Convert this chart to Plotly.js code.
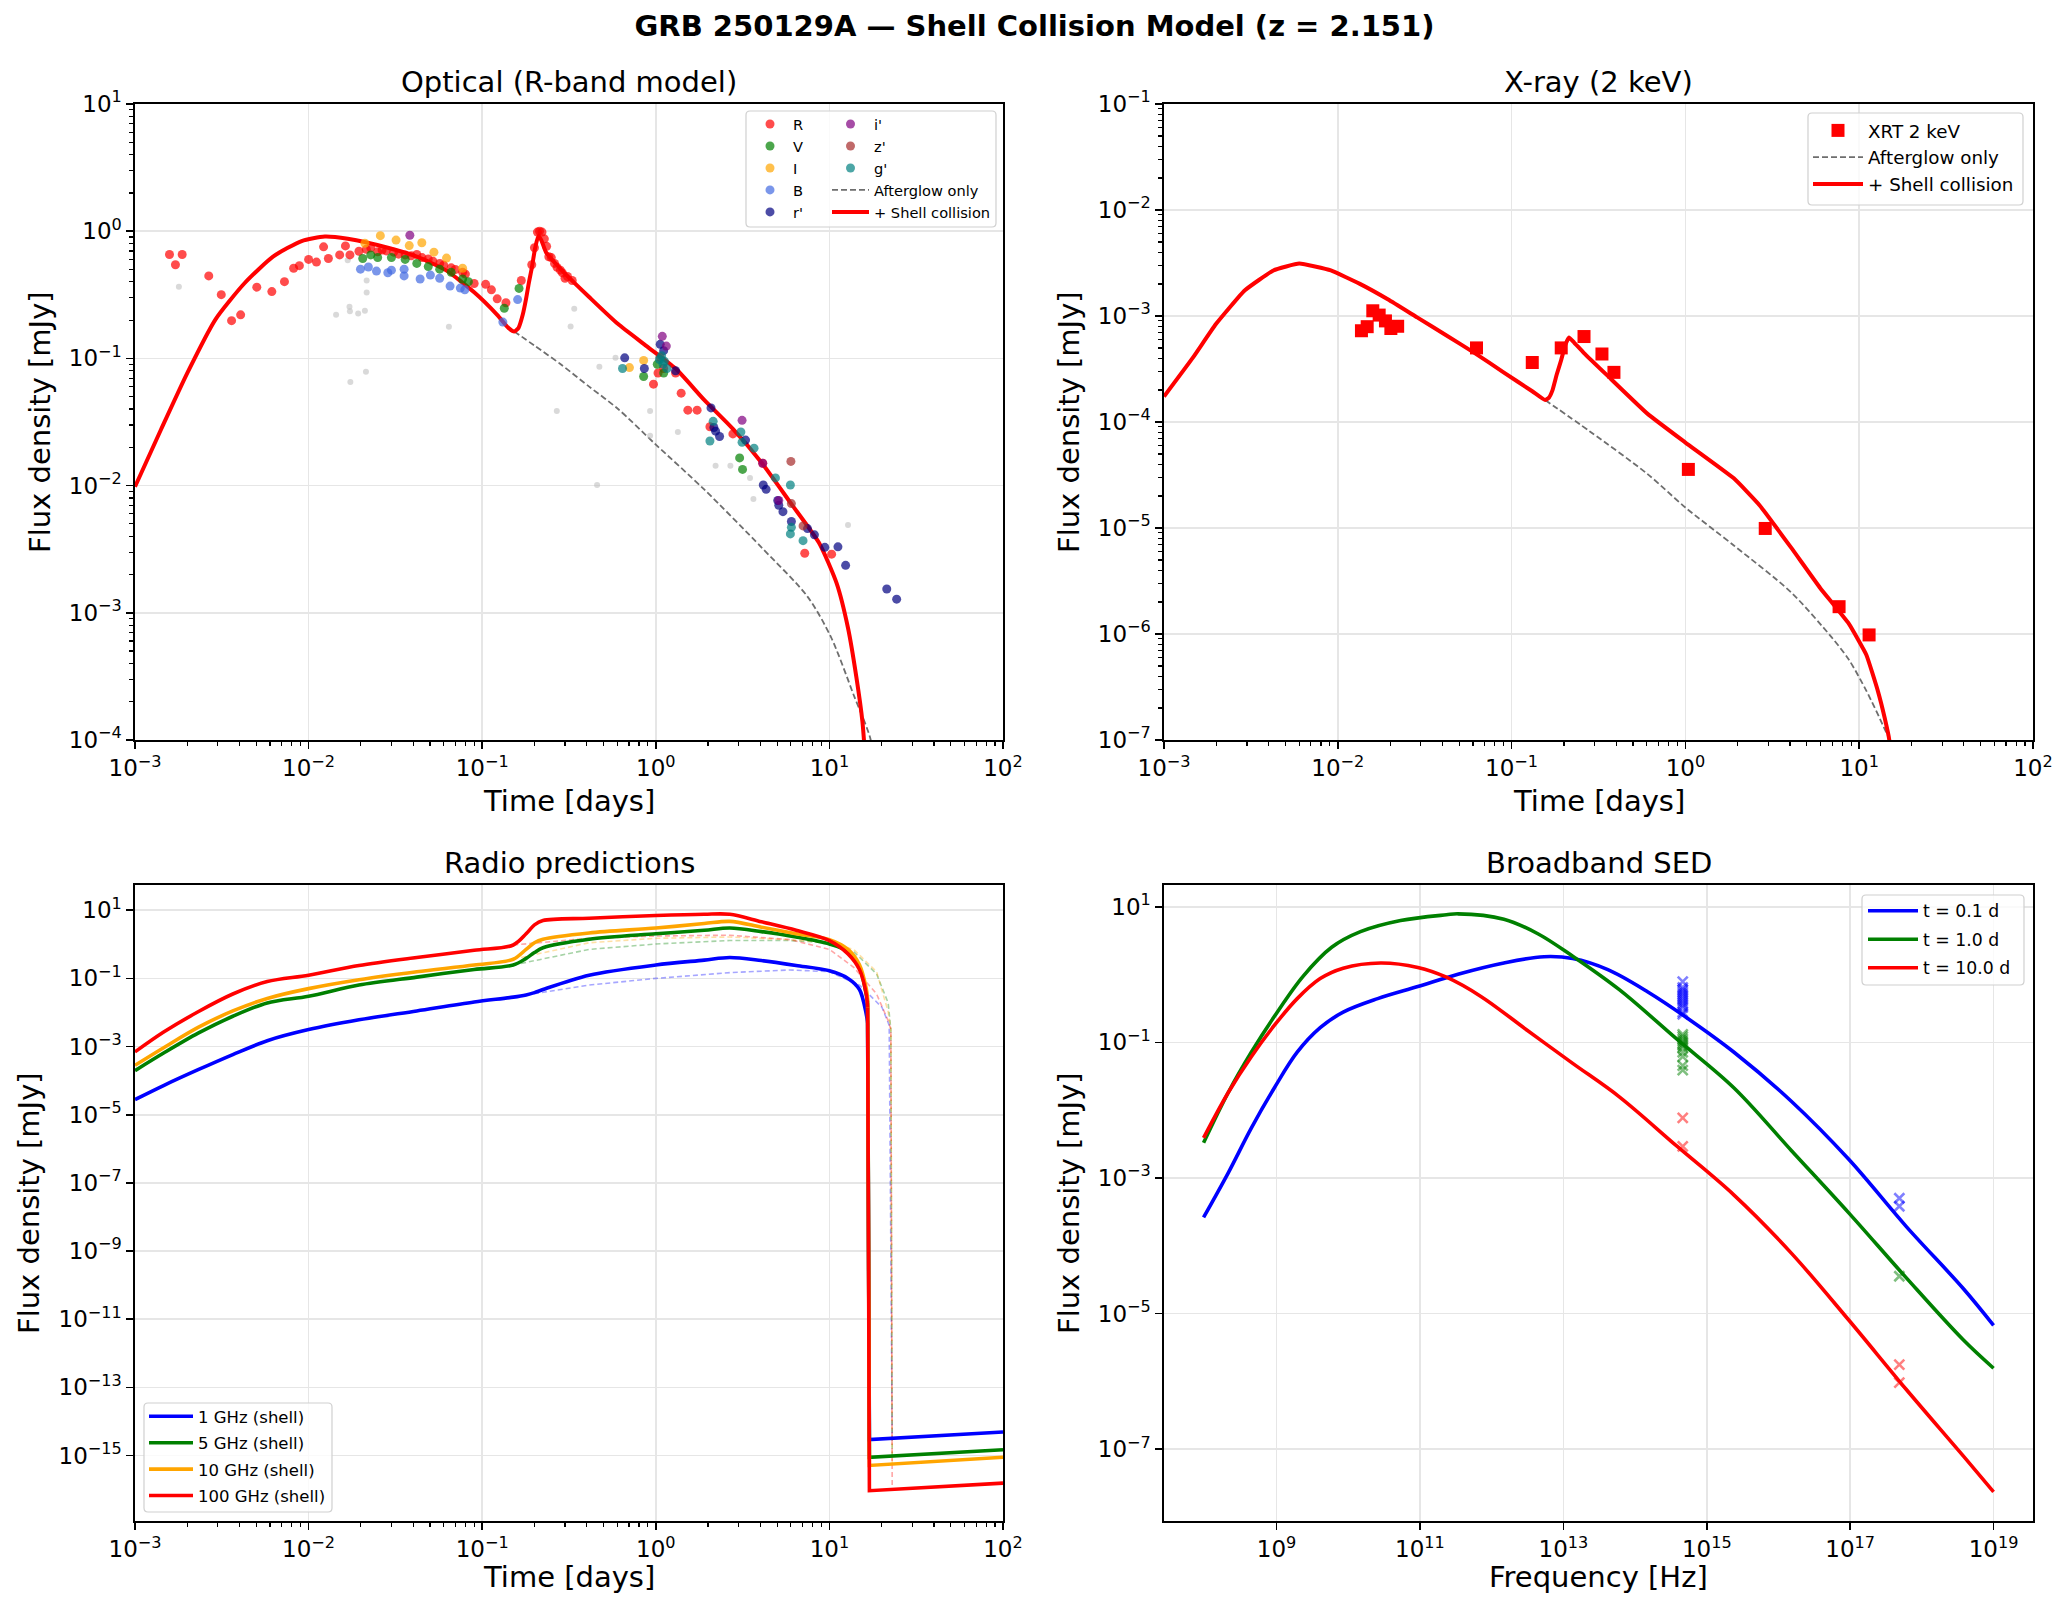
<!DOCTYPE html>
<html>
<head>
<meta charset="utf-8">
<script src="https://cdn.plot.ly/plotly-3.0.1.min.js"></script>
<style>
  html, body { margin: 0; padding: 0; background: #ffffff; }
  #chart { width: 2069px; height: 1614px; }
</style>
</head>
<body>
<div id="chart"></div>
<script>
// ---------------- Optical photometry (time in days, flux density in mJy) ----------------
const rT = [0.00158, 0.00171, 0.00187, 0.00266, 0.00314, 0.0036, 0.00406, 0.00503, 0.00614, 0.00726, 0.0082, 0.00885, 0.01, 0.0111, 0.0122, 0.013, 0.0151, 0.0163, 0.0173, 0.0195, 0.0215, 0.0228, 0.025, 0.0265, 0.028, 0.0309, 0.033, 0.036, 0.039, 0.042, 0.045, 0.0489, 0.052, 0.0569, 0.06, 0.0663, 0.07, 0.0771, 0.08, 0.0899, 0.1047, 0.113, 0.122, 0.137, 0.168, 0.193, 0.200, 0.208, 0.214, 0.221, 0.228, 0.235, 0.242, 0.25, 0.261, 0.27, 0.282, 0.29, 0.300, 0.31, 0.33, 0.97, 1.03, 1.11, 1.30, 1.40, 1.53, 1.73, 2.05, 2.78, 4.13, 7.21, 10.3];
const rF = [0.656, 0.545, 0.656, 0.445, 0.317, 0.198, 0.22, 0.363, 0.335, 0.401, 0.511, 0.536, 0.600, 0.572, 0.753, 0.61, 0.651, 0.766, 0.651, 0.695, 0.72, 0.741, 0.69, 0.711, 0.70, 0.684, 0.66, 0.651, 0.64, 0.656, 0.62, 0.605, 0.58, 0.558, 0.54, 0.515, 0.50, 0.475, 0.46, 0.388, 0.382, 0.346, 0.294, 0.274, 0.41, 0.545, 0.741, 0.984, 1.0, 0.984, 0.871, 0.76, 0.63, 0.62, 0.558, 0.52, 0.494, 0.47, 0.427, 0.44, 0.41, 0.0627, 0.0768, 0.0833, 0.0768, 0.0533, 0.0392, 0.0392, 0.029, 0.0255, 0.015, 0.00294, 0.00289];
const vT = [0.0205, 0.0228, 0.025, 0.030, 0.036, 0.042, 0.0489, 0.0569, 0.0663, 0.0771, 0.0833, 0.134, 0.163, 0.851, 1.02, 1.11, 3.04, 3.16];
const vF = [0.61, 0.651, 0.621, 0.621, 0.600, 0.558, 0.527, 0.503, 0.475, 0.421, 0.401, 0.248, 0.355, 0.072, 0.090, 0.0768, 0.0165, 0.0134];
const iT = [0.0211, 0.0259, 0.0319, 0.038, 0.0449, 0.0527, 0.0623, 0.0771, 0.705, 0.851];
const iF = [0.804, 0.923, 0.851, 0.771, 0.811, 0.684, 0.615, 0.511, 0.0847, 0.0964];
const bT = [0.0199, 0.0221, 0.0246, 0.0286, 0.030, 0.0355, 0.0355, 0.0439, 0.0503, 0.0569, 0.0653, 0.0748, 0.0794, 0.1315, 0.160];
const bF = [0.503, 0.523, 0.486, 0.471, 0.494, 0.503, 0.445, 0.421, 0.452, 0.427, 0.37, 0.357, 0.346, 0.193, 0.29];
const rpT = [0.662, 0.859, 1.06, 1.11, 1.30, 2.08, 2.16, 2.21, 2.33, 3.29, 4.16, 4.32, 5.04, 5.11, 5.40, 6.04, 7.48, 8.20, 9.41, 11.2, 12.4, 21.4, 24.4];
const rpF = [0.101, 0.0833, 0.129, 0.115, 0.080, 0.0408, 0.0286, 0.0268, 0.0243, 0.0228, 0.0101, 0.00935, 0.00764, 0.007, 0.00624, 0.00522, 0.00459, 0.0041, 0.00327, 0.0033, 0.00236, 0.00154, 0.00128];
const ipT = [0.0383, 1.09, 1.15, 3.14, 4.13, 5.11];
const ipF = [0.929, 0.149, 0.125, 0.0326, 0.015, 0.00764];
const zpT = [1.06, 6.0, 6.04, 7.05];
const zpF = [0.102, 0.0155, 0.00722, 0.00482];
const gpT = [0.643, 1.05, 1.08, 1.10, 1.12, 1.16, 2.05, 2.14, 3.09, 3.14, 3.68, 4.89, 5.96, 5.96, 6.04, 7.05];
const gpF = [0.0833, 0.098, 0.105, 0.0903, 0.095, 0.0833, 0.0224, 0.032, 0.0264, 0.0219, 0.0197, 0.0115, 0.0101, 0.00417, 0.0047, 0.00369];
const otherT = [0.00179, 0.0144, 0.0172, 0.0173, 0.0193, 0.0211, 0.0174, 0.0214, 0.0216, 0.0216, 0.0168, 0.0643, 0.269, 0.323, 0.339, 0.459, 0.473, 0.586, 0.927, 0.927, 1.34, 2.21, 2.69, 3.49, 3.65, 12.8];
const otherF = [0.366, 0.22, 0.255, 0.235, 0.225, 0.237, 0.0653, 0.0787, 0.33, 0.41, 0.59, 0.177, 0.0386, 0.178, 0.246, 0.0101, 0.086, 0.101, 0.0386, 0.0247, 0.0264, 0.0143, 0.0143, 0.0115, 0.00783, 0.0049];

// ---------------- Optical model (R band) ----------------
const optModelT = [0.001, 0.00141, 0.002, 0.00291, 0.00426, 0.00624, 0.00912, 0.0124, 0.0168, 0.0286, 0.042, 0.0617, 0.0899, 0.122, 0.142, 0.153, 0.162, 0.171, 0.179, 0.186, 0.193, 0.202, 0.211, 0.219, 0.233, 0.263, 0.304, 0.413, 0.604, 0.885, 1.30, 1.90, 2.78, 4.06, 5.96, 8.71, 11.0, 12.8, 14.3, 15.5, 16.2];
const optModelF = [0.0098, 0.0275, 0.0767, 0.203, 0.388, 0.631, 0.837, 0.908, 0.871, 0.741, 0.631, 0.494, 0.331, 0.22, 0.173, 0.163, 0.174, 0.219, 0.295, 0.398, 0.513, 0.741, 0.923, 0.851, 0.684, 0.562, 0.456, 0.304, 0.187, 0.125, 0.0832, 0.0472, 0.0279, 0.0152, 0.00735, 0.00355, 0.00171, 7.59e-4, 3.12e-4, 1.39e-4, 6.3e-5];
const optAfterT = [0.153, 0.20, 0.282, 0.413, 0.604, 1.0, 1.90, 4.06, 7.48, 10.2, 13.8, 17.3, 17.8];
const optAfterF = [0.163, 0.126, 0.0904, 0.06, 0.0402, 0.021, 0.00933, 0.00327, 0.00134, 6.46e-4, 2.26e-4, 1e-4, 6.3e-5];

// ---------------- X-ray (2 keV) ----------------
const xrtT = [0.01368, 0.01476, 0.0159, 0.0173, 0.0188, 0.0202, 0.0221, 0.0628, 0.1315, 0.193, 0.261, 0.331, 0.388, 1.04, 2.88, 7.66, 11.4];
const xrtF = [7.26e-4, 7.93e-4, 1.12e-3, 1.02e-3, 8.99e-4, 7.62e-4, 8.0e-4, 5.0e-4, 3.64e-4, 5.0e-4, 6.4e-4, 4.38e-4, 2.94e-4, 3.57e-5, 9.9e-6, 1.81e-6, 9.8e-7];
const xModelT = [0.001, 0.00147, 0.00199, 0.00291, 0.00426, 0.006, 0.00912, 0.0134, 0.0195, 0.0286, 0.042, 0.0614, 0.0899, 0.1315, 0.156, 0.164, 0.172, 0.182, 0.193, 0.204, 0.214, 0.229, 0.261, 0.355, 0.604, 1.0, 1.90, 2.67, 4.06, 5.96, 8.71, 11.0, 12.8, 14.0, 14.9, 15.1];
const xModelF = [1.74e-4, 4.07e-4, 8.39e-4, 1.74e-3, 2.69e-3, 3.12e-3, 2.69e-3, 2.01e-3, 1.43e-3, 9.7e-4, 6.59e-4, 4.47e-4, 2.94e-4, 1.95e-4, 1.61e-4, 1.70e-4, 2.0e-4, 2.82e-4, 3.86e-4, 5.37e-4, 6.27e-4, 5.62e-4, 4.47e-4, 2.75e-4, 1.2e-4, 6.4e-5, 2.94e-5, 1.64e-5, 6.52e-6, 2.72e-6, 1.25e-6, 6.34e-7, 2.91e-7, 1.63e-7, 1e-7, 6.3e-8];
const xAfterT = [0.156, 0.282, 0.604, 1.0, 1.90, 4.06, 6.93, 8.71, 11.0, 13.8, 14.9, 15.1];
const xAfterF = [1.61e-4, 8.15e-5, 3.24e-5, 1.56e-5, 6.84e-6, 2.47e-6, 9.33e-7, 5.74e-7, 2.91e-7, 1.34e-7, 1e-7, 6.3e-8];

// ---------------- Radio light curves (before and after the cut-off) ----------------
const radioT = [0.001, 0.00147, 0.00231, 0.00366, 0.00578, 0.01, 0.0195, 0.042, 0.0899, 0.151, 0.179, 0.2, 0.224, 0.413, 1.0, 1.9, 2.67, 4.06, 6.43, 10.0, 12.8, 14.9, 16.3, 16.6];
const radio1 = [2.78e-5, 7.29e-5, 2.09e-4, 5.82e-4, 1.48e-3, 3.14e-3, 6.08e-3, 0.0111, 0.0203, 0.0282, 0.0328, 0.0382, 0.0471, 0.124, 0.247, 0.344, 0.411, 0.333, 0.239, 0.167, 0.1, 0.0471, 9.0e-3, 5.0e-3];
const radio5 = [1.97e-4, 6.56e-4, 2.47e-3, 7.74e-3, 0.0191, 0.030, 0.0637, 0.109, 0.182, 0.247, 0.387, 0.573, 0.794, 1.41, 2.03, 2.58, 3.0, 2.36, 1.64, 1.02, 0.608, 0.212, 0.0348, 0.02];
const radio10 = [2.82e-4, 9.42e-4, 3.65e-3, 0.0111, 0.0258, 0.0501, 0.0914, 0.157, 0.247, 0.365, 0.708, 1.11, 1.41, 2.15, 3.0, 4.06, 4.71, 3.18, 2.03, 1.37, 0.708, 0.251, 0.0501, 0.0251];
const radio100 = [6.97e-4, 2.70e-3, 0.0105, 0.0348, 0.0809, 0.124, 0.239, 0.411, 0.667, 0.955, 2.03, 3.71, 5.0, 5.82, 6.97, 7.62, 7.62, 4.57, 2.58, 1.29, 0.524, 0.182, 0.0348, 0.0141];
const radioPostT = [17.0, 100];
const radio1Post = [2.95e-15, 4.9e-15];
const radio5Post = [8.91e-16, 1.48e-15];
const radio10Post = [5.13e-16, 8.91e-16];
const radio100Post = [9.3e-17, 1.55e-16];
const radioAgT = [0.151, 0.413, 1.0, 2.67, 5.96, 10.0, 13.8, 18.7, 21.8, 22.6, 23.0];
const radioAg5 = [0.247, 0.708, 1.02, 1.29, 1.29, 1.11, 0.608, 0.135, 0.0191, 3.16e-3, 1.0e-15];
const radioAg10 = [0.365, 1.11, 1.5, 1.64, 1.37, 1.11, 0.708, 0.157, 0.0105, 3.16e-3, 5.5e-16];
const radioAg100 = [0.955, 1.5, 1.75, 1.85, 1.37, 0.708, 0.212, 0.0348, 5.73e-3, 3.16e-3, 1.07e-16];
const radioAg1T = [0.179, 0.413, 1.0, 2.67, 5.96, 10.0, 14.9, 20.1, 22.1, 23.0];
const radioAg1 = [0.0328, 0.0637, 0.1, 0.148, 0.177, 0.157, 0.0637, 0.0141, 4.24e-3, 3.47e-15];

// ---------------- Broadband SED (frequency in Hz) ----------------
const sedNu01 = [9.59e7, 2.12e8, 4.44e8, 9.29e8, 1.94e9, 4.06e9, 8.49e9, 2.57e10, 9.33e10, 3.39e11, 1.48e12, 5.37e12, 1.35e13, 4.17e13, 1.51e14, 5.5e14, 2.4e15, 1.51e16, 9.55e16, 6.03e17, 3.8e18, 1e19];
const sedF01 = [2.62e-4, 1.19e-3, 5.43e-3, 0.0212, 0.0714, 0.164, 0.279, 0.441, 0.664, 1.01, 1.48, 1.83, 1.72, 1.18, 0.553, 0.223, 0.0714, 0.0135, 1.88e-3, 1.93e-4, 2.32e-5, 6.68e-6];
const sedNu1 = [9.59e7, 2.12e8, 4.44e8, 9.29e8, 2.34e9, 5.87e9, 1.48e10, 5.37e10, 2.34e11, 3.39e11, 1.48e12, 4.47e12, 1.35e13, 6.03e13, 3.8e14, 2.4e15, 1.51e16, 9.55e16, 6.03e17, 3.8e18, 1e19];
const sedF1 = [3.29e-3, 0.0182, 0.0714, 0.24, 0.94, 2.52, 4.28, 6.25, 7.6, 7.85, 6.55, 3.96, 1.86, 0.597, 0.112, 0.0212, 2.54e-3, 3.05e-4, 3.38e-5, 4.06e-6, 1.56e-6];
const sedNu10 = [9.59e7, 2.12e8, 4.44e8, 9.29e8, 1.94e9, 4.06e9, 8.49e9, 2.82e10, 9.33e10, 2.34e11, 7.08e11, 3.09e12, 1.35e13, 6.03e13, 3.8e14, 2.4e15, 1.51e16, 9.55e16, 6.03e17, 3.8e18, 1e19];
const sedF10 = [3.89e-3, 0.0182, 0.0614, 0.177, 0.441, 0.871, 1.24, 1.48, 1.27, 0.912, 0.475, 0.152, 0.0489, 0.0157, 2.96e-3, 5.58e-4, 7.78e-5, 8.02e-6, 7.64e-7, 7.87e-8, 2.34e-8];
const obsNu01 = [4.62e14, 4.62e14, 4.62e14, 4.62e14, 4.62e14, 4.62e14, 4.62e14, 4.62e14, 4.62e14, 4.62e14, 4.62e14, 4.62e14, 4.62e14, 4.85e17, 4.85e17];
const obsF01 = [0.783, 0.643, 0.596, 0.552, 0.513, 0.475, 0.441, 0.408, 0.378, 0.351, 0.325, 0.279, 0.259, 5.02e-4, 3.82e-4];
const obsNu1 = [4.62e14, 4.62e14, 4.62e14, 4.62e14, 4.62e14, 4.62e14, 4.62e14, 4.62e14, 4.62e14, 4.62e14, 4.62e14, 4.85e17];
const obsF1 = [0.131, 0.121, 0.112, 0.104, 0.0968, 0.0897, 0.0832, 0.0714, 0.0614, 0.0453, 0.0389, 3.55e-5];
const obsNu10 = [4.62e14, 4.62e14, 4.85e17, 4.85e17];
const obsF10 = [7.69e-3, 2.92e-3, 1.76e-6, 9.59e-7];

// ---------------- Axis ticks ----------------
const timeTicks = [1e-3, 1e-2, 1e-1, 1, 10, 100];
const timeTickText = ['10<sup>−3</sup>', '10<sup>−2</sup>', '10<sup>−1</sup>', '10<sup>0</sup>', '10<sup>1</sup>', '10<sup>2</sup>'];
const optTicks = [1e-4, 1e-3, 1e-2, 1e-1, 1, 10];
const optTickText = ['10<sup>−4</sup>', '10<sup>−3</sup>', '10<sup>−2</sup>', '10<sup>−1</sup>', '10<sup>0</sup>', '10<sup>1</sup>'];
const xrayTicks = [1e-7, 1e-6, 1e-5, 1e-4, 1e-3, 1e-2, 1e-1];
const xrayTickText = ['10<sup>−7</sup>', '10<sup>−6</sup>', '10<sup>−5</sup>', '10<sup>−4</sup>', '10<sup>−3</sup>', '10<sup>−2</sup>', '10<sup>−1</sup>'];
const radioTicks = [1e-15, 1e-13, 1e-11, 1e-9, 1e-7, 1e-5, 1e-3, 1e-1, 10];
const radioTickText = ['10<sup>−15</sup>', '10<sup>−13</sup>', '10<sup>−11</sup>', '10<sup>−9</sup>', '10<sup>−7</sup>', '10<sup>−5</sup>', '10<sup>−3</sup>', '10<sup>−1</sup>', '10<sup>1</sup>'];
const freqTicks = [1e9, 1e11, 1e13, 1e15, 1e17, 1e19];
const freqTickText = ['10<sup>9</sup>', '10<sup>11</sup>', '10<sup>13</sup>', '10<sup>15</sup>', '10<sup>17</sup>', '10<sup>19</sup>'];
const sedTicks = [1e-7, 1e-5, 1e-3, 1e-1, 10];
const sedTickText = ['10<sup>−7</sup>', '10<sup>−5</sup>', '10<sup>−3</sup>', '10<sup>−1</sup>', '10<sup>1</sup>'];

// minor tick positions (2..9 × each decade)
function minorLog(lo, hi) {
  const out = [];
  for (let d = lo; d < hi; d++) for (let k = 2; k <= 9; k++) out.push(k * Math.pow(10, d));
  return out;
}

const W = 2069, H = 1614;
const FONT = 'DejaVu Sans';
const px = v => v / W;
const py = v => 1 - v / H;

// panel frames in pixels
const COL1 = [135, 1003], COL2 = [1164, 2033];
const ROW1 = [104, 740], ROW2 = [885, 1521];

function axisBase(extra) {
  return Object.assign({
    type: 'log', showline: true, mirror: true, linecolor: '#000', linewidth: 1.6,
    ticks: 'outside', ticklen: 7, tickwidth: 1.6, tickcolor: '#000',
    showgrid: true, gridcolor: '#e6e6e6', gridwidth: 1.6, zeroline: false,
    tickfont: { family: FONT, size: 23, color: '#000' }, tickmode: 'array'
  }, extra);
}
function minor(vals) {
  return { tickmode: 'array', tickvals: vals, ticks: 'outside', ticklen: 4, tickwidth: 1.2, tickcolor: '#000', showgrid: false };
}

function pts(x, y, name, color, legend, rank) {
  return {
    type: 'scatter', mode: 'markers', x: x, y: y, name: name,
    xaxis: 'x', yaxis: 'y', legend: legend, legendrank: rank,
    marker: { color: color, size: 9, opacity: 0.7, line: { width: 0 } }
  };
}
const smooth = (color, width, s) => ({ color: color, width: width, shape: 'spline', smoothing: s });

// radio curve: smooth part with legend entry, then the sharp cut-off drawn straight
function radioCurve(pre, post, name, color, group) {
  const last = radioT.length - 1;
  return [
    { type: 'scatter', mode: 'lines', x: radioT, y: pre, name: name, xaxis: 'x3', yaxis: 'y3',
      legend: 'legend4', legendgroup: group, line: smooth(color, 3.6, 0.9) },
    { type: 'scatter', mode: 'lines', x: [radioT[last]].concat(radioPostT), y: [pre[last]].concat(post),
      xaxis: 'x3', yaxis: 'y3', legendgroup: group, showlegend: false, line: { color: color, width: 3.6 } }
  ];
}
function radioAfterglow(t, f, color) {
  return { type: 'scatter', mode: 'lines', x: t, y: f, xaxis: 'x3', yaxis: 'y3', showlegend: false,
    line: { color: color, width: 1.6, dash: '5px,3px' } };
}
function sedCross(x, y, color) {
  return { type: 'scatter', mode: 'markers', x: x, y: y, xaxis: 'x4', yaxis: 'y4', showlegend: false,
    marker: { symbol: 'x-thin', size: 10, color: color, line: { color: color, width: 2.6 } } };
}

const traces = [
  // ---- Optical panel ----
  { type: 'scatter', mode: 'lines', x: optAfterT, y: optAfterF, name: 'Afterglow only', xaxis: 'x', yaxis: 'y',
    legend: 'legend2', legendrank: 4, line: { color: 'rgb(110,110,110)', width: 1.8, dash: '6px,3px', shape: 'spline', smoothing: 0.8 } },
  { type: 'scatter', mode: 'lines', x: optModelT, y: optModelF, name: '+ Shell collision', xaxis: 'x', yaxis: 'y',
    legend: 'legend2', legendrank: 5, line: smooth('red', 4, 0.6) },
  { type: 'scatter', mode: 'markers', x: otherT, y: otherF, xaxis: 'x', yaxis: 'y', showlegend: false,
    marker: { color: 'rgb(185,185,185)', size: 6, opacity: 0.55 } },
  pts(rT, rF, 'R', 'red', 'legend', 1),
  pts(vT, vF, 'V', 'green', 'legend', 2),
  pts(iT, iF, 'I', 'orange', 'legend', 3),
  pts(bT, bF, 'B', 'royalblue', 'legend', 4),
  pts(rpT, rpF, "r'", 'navy', 'legend', 5),
  pts(ipT, ipF, "i'", 'purple', 'legend2', 1),
  pts(zpT, zpF, "z'", 'brown', 'legend2', 2),
  pts(gpT, gpF, "g'", 'teal', 'legend2', 3),

  // ---- X-ray panel ----
  { type: 'scatter', mode: 'lines', x: xAfterT, y: xAfterF, name: 'Afterglow only', xaxis: 'x2', yaxis: 'y2',
    legend: 'legend3', legendrank: 2, line: { color: 'rgb(110,110,110)', width: 1.8, dash: '6px,3px', shape: 'spline', smoothing: 0.8 } },
  { type: 'scatter', mode: 'lines', x: xModelT, y: xModelF, name: '+ Shell collision', xaxis: 'x2', yaxis: 'y2',
    legend: 'legend3', legendrank: 3, line: smooth('red', 4, 0.35) },
  { type: 'scatter', mode: 'markers', x: xrtT, y: xrtF, name: 'XRT 2 keV', xaxis: 'x2', yaxis: 'y2',
    legend: 'legend3', legendrank: 1, marker: { symbol: 'square', color: 'red', size: 13 } },

  // ---- Radio panel: afterglow-only (dashed) then shell (solid) ----
  radioAfterglow(radioAg1T, radioAg1, 'rgba(0,0,255,0.35)'),
  radioAfterglow(radioAgT, radioAg5, 'rgba(0,128,0,0.35)'),
  radioAfterglow(radioAgT, radioAg10, 'rgba(255,165,0,0.35)'),
  radioAfterglow(radioAgT, radioAg100, 'rgba(255,0,0,0.35)'),
  ...radioCurve(radio1, radio1Post, '1 GHz (shell)', 'blue', 'g1'),
  ...radioCurve(radio5, radio5Post, '5 GHz (shell)', 'green', 'g5'),
  ...radioCurve(radio10, radio10Post, '10 GHz (shell)', 'orange', 'g10'),
  ...radioCurve(radio100, radio100Post, '100 GHz (shell)', 'red', 'g100'),

  // ---- SED panel ----
  { type: 'scatter', mode: 'lines', x: sedNu01, y: sedF01, name: 't = 0.1 d', xaxis: 'x4', yaxis: 'y4',
    legend: 'legend5', legendgroup: 's01', line: smooth('blue', 3.6, 1.0) },
  { type: 'scatter', mode: 'lines', x: sedNu1, y: sedF1, name: 't = 1.0 d', xaxis: 'x4', yaxis: 'y4',
    legend: 'legend5', legendgroup: 's1', line: smooth('green', 3.6, 1.0) },
  { type: 'scatter', mode: 'lines', x: sedNu10, y: sedF10, name: 't = 10.0 d', xaxis: 'x4', yaxis: 'y4',
    legend: 'legend5', legendgroup: 's10', line: smooth('red', 3.6, 1.0) },
  sedCross(obsNu01, obsF01, 'rgba(0,0,255,0.5)'),
  sedCross(obsNu1, obsF1, 'rgba(0,128,0,0.5)'),
  sedCross(obsNu10, obsF10, 'rgba(255,0,0,0.5)')
];

// legend frame (rounded box) in pixel coordinates
function boxPath(x0, y0, x1, y1, r) {
  const X = v => px(v).toFixed(6), Y = v => py(v).toFixed(6);
  return 'M' + X(x0 + r) + ',' + Y(y0) + ' L' + X(x1 - r) + ',' + Y(y0) +
    ' Q' + X(x1) + ',' + Y(y0) + ' ' + X(x1) + ',' + Y(y0 + r) +
    ' L' + X(x1) + ',' + Y(y1 - r) + ' Q' + X(x1) + ',' + Y(y1) + ' ' + X(x1 - r) + ',' + Y(y1) +
    ' L' + X(x0 + r) + ',' + Y(y1) + ' Q' + X(x0) + ',' + Y(y1) + ' ' + X(x0) + ',' + Y(y1 - r) +
    ' L' + X(x0) + ',' + Y(y0 + r) + ' Q' + X(x0) + ',' + Y(y0) + ' ' + X(x0 + r) + ',' + Y(y0) + ' Z';
}
function legendBox(x0, y0, x1, y1) {
  return { type: 'path', xref: 'paper', yref: 'paper', path: boxPath(x0, y0, x1, y1, 4), layer: 'above',
    fillcolor: 'rgba(255,255,255,0.8)', line: { color: '#d0d0d0', width: 1.2 } };
}
function legendAt(x, y, size, itemwidth, extra) {
  return Object.assign({ x: px(x), y: py(y), xanchor: 'left', yanchor: 'top', bgcolor: 'rgba(0,0,0,0)',
    borderwidth: 0, itemwidth: itemwidth, font: { family: FONT, size: size, color: '#000' } }, extra || {});
}

function label(text, x, y, size, angle) {
  return { text: text, x: px(x), y: py(y), xref: 'paper', yref: 'paper',
    xanchor: 'center', yanchor: 'middle', showarrow: false, textangle: angle || 0,
    font: { family: FONT, size: size, color: '#000' } };
}
const c1 = (COL1[0] + COL1[1]) / 2, c2 = (COL2[0] + COL2[1]) / 2;
const r1 = (ROW1[0] + ROW1[1]) / 2, r2 = (ROW2[0] + ROW2[1]) / 2;

const layout = {
  width: W, height: H,
  margin: { l: 0, r: 0, t: 0, b: 0 },
  paper_bgcolor: '#fff', plot_bgcolor: '#fff',
  font: { family: FONT, color: '#000' },
  title: { text: '<b>GRB 250129A — Shell Collision Model (z = 2.151)</b>', x: 0.5, xanchor: 'center',
    xref: 'container', yref: 'container', y: 1 - 26 / H, yanchor: 'middle', font: { family: FONT, size: 29, color: '#000' } },
  showlegend: true,
  xaxis: axisBase({ domain: [px(COL1[0]), px(COL1[1])], anchor: 'y', range: [-3, 2], tickvals: timeTicks, ticktext: timeTickText, minor: minor(minorLog(-3, 2)) }),
  yaxis: axisBase({ domain: [py(ROW1[1]), py(ROW1[0])], anchor: 'x', range: [-4, 1], tickvals: optTicks, ticktext: optTickText, minor: minor(minorLog(-4, 1)) }),
  xaxis2: axisBase({ domain: [px(COL2[0]), px(COL2[1])], anchor: 'y2', range: [-3, 2], tickvals: timeTicks, ticktext: timeTickText, minor: minor(minorLog(-3, 2)) }),
  yaxis2: axisBase({ domain: [py(ROW1[1]), py(ROW1[0])], anchor: 'x2', range: [-7, -1], tickvals: xrayTicks, ticktext: xrayTickText, minor: minor(minorLog(-7, -1)) }),
  xaxis3: axisBase({ domain: [px(COL1[0]), px(COL1[1])], anchor: 'y3', range: [-3, 2], tickvals: timeTicks, ticktext: timeTickText, minor: minor(minorLog(-3, 2)) }),
  yaxis3: axisBase({ domain: [py(ROW2[1]), py(ROW2[0])], anchor: 'x3', range: [-16.92, 1.74], tickvals: radioTicks, ticktext: radioTickText }),
  xaxis4: axisBase({ domain: [px(COL2[0]), px(COL2[1])], anchor: 'y4', range: [7.43, 19.55], tickvals: freqTicks, ticktext: freqTickText }),
  yaxis4: axisBase({ domain: [py(ROW2[1]), py(ROW2[0])], anchor: 'x4', range: [-8.06, 1.32], tickvals: sedTicks, ticktext: sedTickText }),
  legend: legendAt(747, 108, 14.6, 36),
  legend2: legendAt(827, 108, 14.6, 37),
  legend3: legendAt(1808, 112, 18.3, 50),
  legend4: legendAt(144, 1399, 16.5, 44, { traceorder: 'grouped', tracegroupgap: 2 }),
  legend5: legendAt(1863, 893, 17.3, 50, { traceorder: 'grouped', tracegroupgap: 3 }),
  shapes: [
    legendBox(746, 111, 996, 227),
    legendBox(1808, 113, 2023, 205),
    legendBox(144, 1403, 332, 1512),
    legendBox(1862, 895, 2024, 985)
  ],
  annotations: [
    label('Optical (R-band model)', c1, 82, 29),
    label('X-ray (2 keV)', c2, 82, 29),
    label('Radio predictions', c1, 863, 29),
    label('Broadband SED', c2, 863, 29),
    label('Time [days]', c1, 801, 29),
    label('Time [days]', c2, 801, 29),
    label('Time [days]', c1, 1577, 29),
    label('Frequency [Hz]', c2, 1577, 29),
    label('Flux density [mJy]', 40, r1, 29, -90),
    label('Flux density [mJy]', 1069, r1, 29, -90),
    label('Flux density [mJy]', 29, r2, 29, -90),
    label('Flux density [mJy]', 1069, r2, 29, -90)
  ]
};

Plotly.newPlot('chart', traces, layout, { staticPlot: true, displayModeBar: false });
</script>
</body>
</html>
